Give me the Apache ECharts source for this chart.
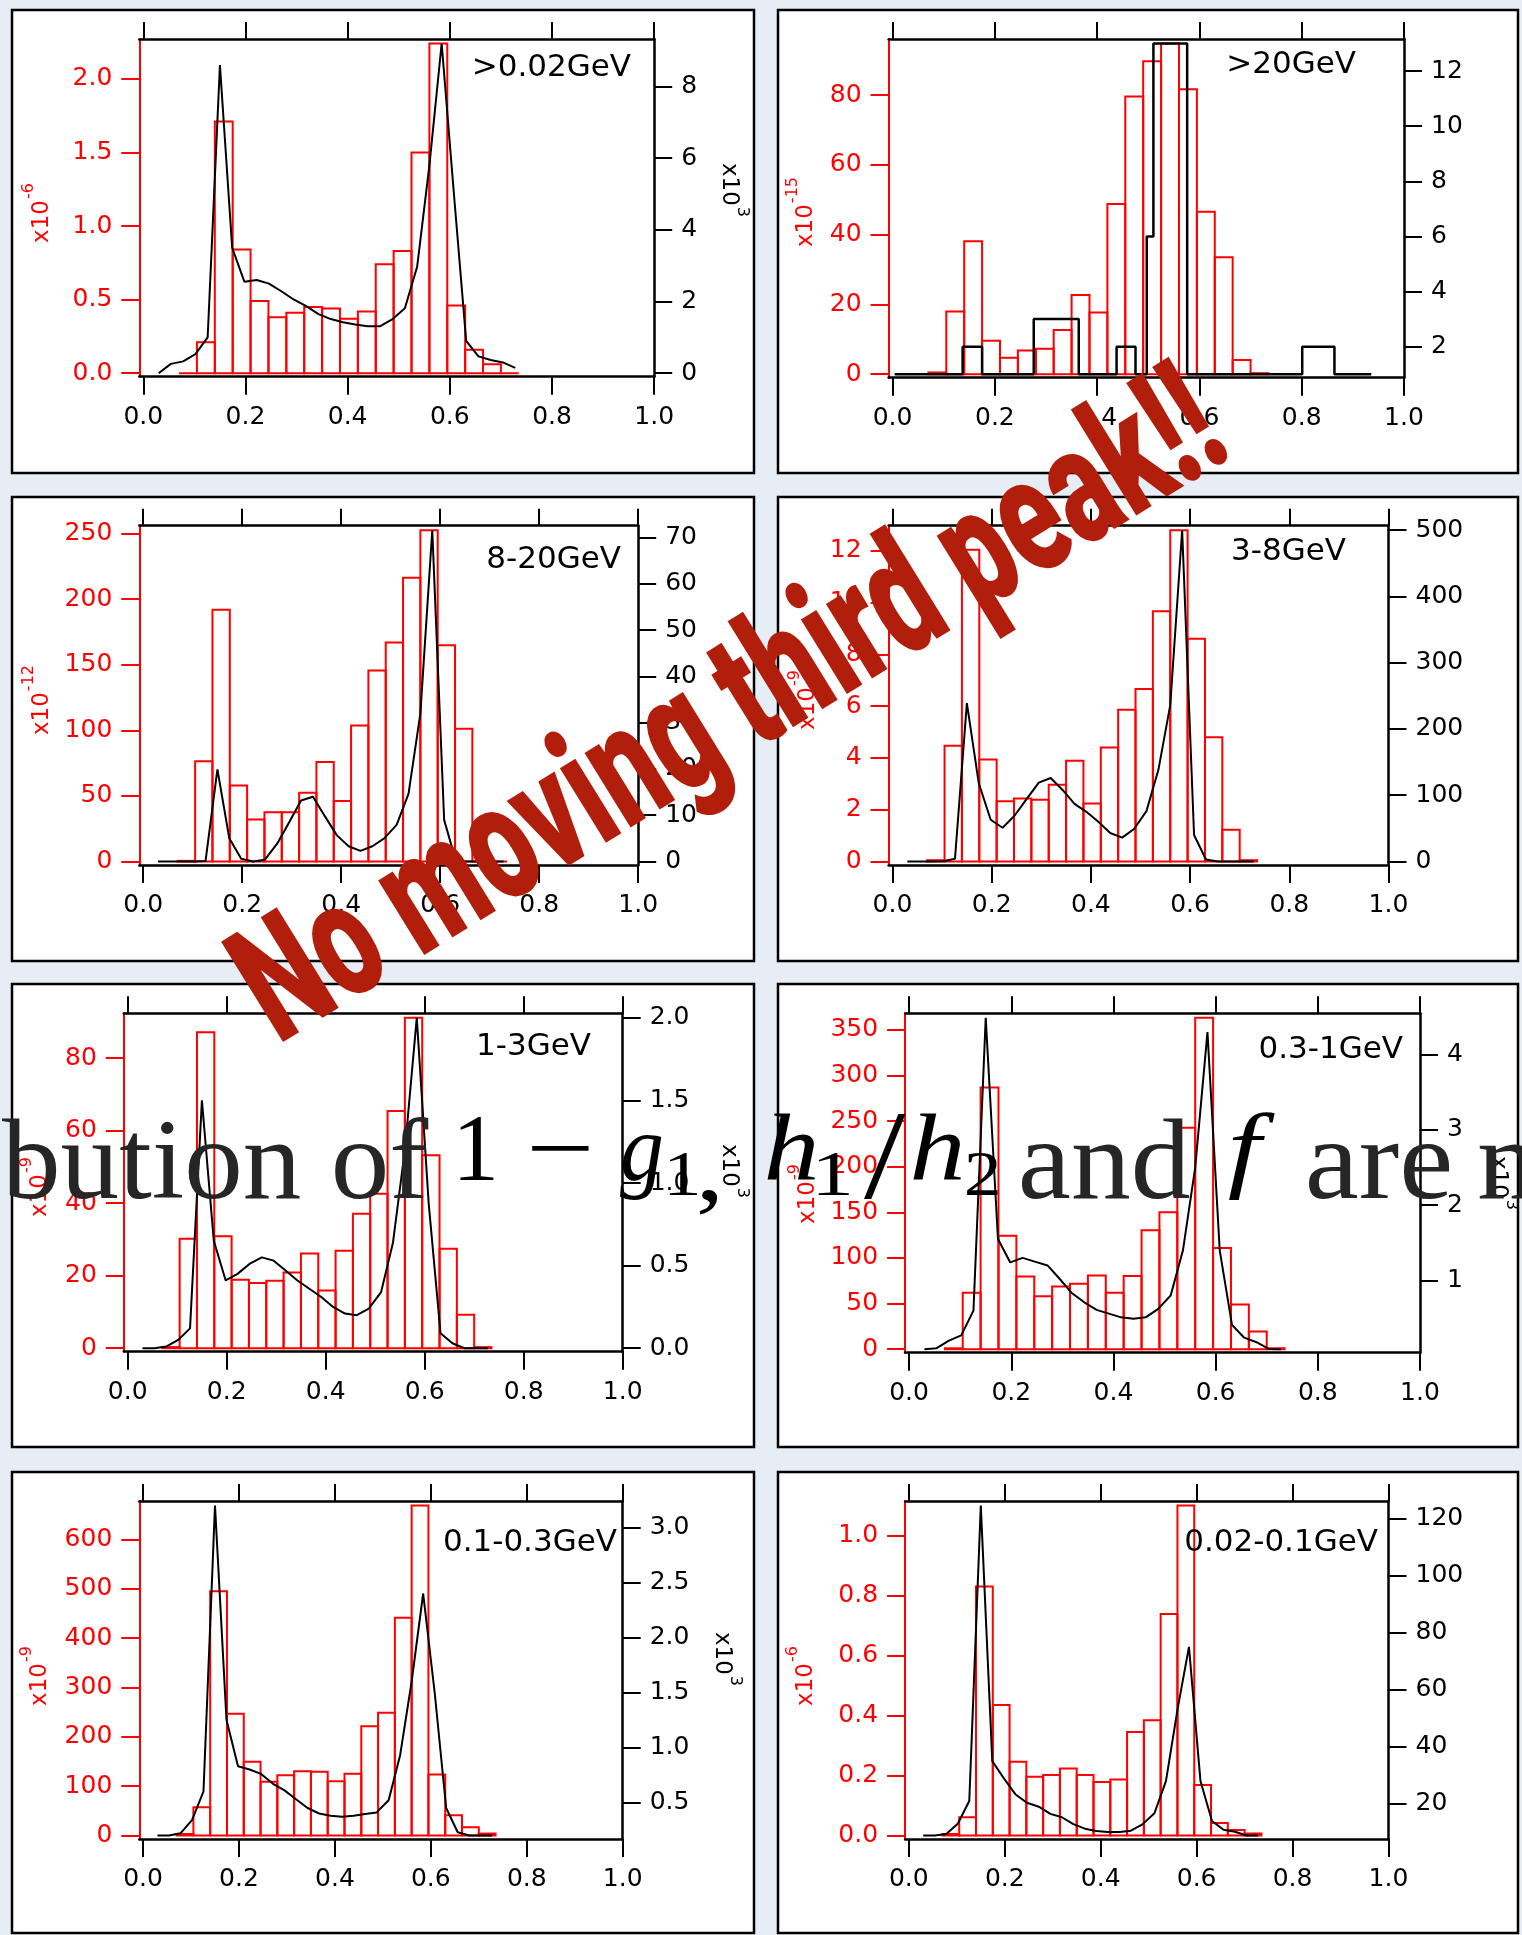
<!DOCTYPE html>
<html>
<head>
<meta charset="utf-8">
<title>Histograms by energy band</title>
<script src="https://cdn.jsdelivr.net/npm/echarts@6/dist/echarts.min.js"></script>
<style>
  html, body { margin: 0; padding: 0; background: #e6edf4; }
  #chart { width: 1522px; height: 1935px; }
</style>
</head>
<body>
<div id="chart"></div>
<script>
// ---------- shared scales ----------
const X_TICKS = ['0.0', '0.2', '0.4', '0.6', '0.8', '1.0'];
const BIN_EDGES = [0.07, 0.105, 0.14, 0.175, 0.21, 0.245, 0.28, 0.315, 0.35, 0.385,
                   0.42, 0.455, 0.49, 0.525, 0.56, 0.595, 0.63, 0.665, 0.70, 0.735];
const LINE_X = [0.030, 0.054, 0.078, 0.102, 0.126, 0.150, 0.174, 0.198, 0.222, 0.246,
                0.271, 0.295, 0.319, 0.343, 0.367, 0.391, 0.415, 0.439, 0.463, 0.487,
                0.512, 0.536, 0.560, 0.584, 0.608, 0.632, 0.656, 0.680, 0.704, 0.728];

// ---------- >0.02GeV ----------
const BARS_GT002 = [0, 0.21, 1.71, 0.84, 0.49, 0.38, 0.41, 0.45, 0.44, 0.37, 0.42, 0.74, 0.83, 1.50, 2.24, 0.46, 0.16, 0.06, 0];
const LINE_GT002 = [0, 0.26, 0.33, 0.53, 1.0, 8.6, 3.5, 2.55, 2.6, 2.5, 2.28, 2.05, 1.87, 1.65, 1.51,
                    1.42, 1.36, 1.31, 1.31, 1.5, 1.81, 2.97, 5.8, 9.2, 5.0, 0.9, 0.47, 0.37, 0.3, 0.15];
const LEFT_TICKS_GT002 = ['0.0', '0.5', '1.0', '1.5', '2.0'];
const RIGHT_TICKS_GT002 = ['0', '2', '4', '6', '8'];

// ---------- >20GeV ----------
const BARS_GT20 = [0.5, 18.0, 38.1, 9.6, 4.7, 6.8, 7.3, 12.7, 22.7, 17.7, 48.8, 79.6, 89.7, 94.8, 81.7, 46.6, 33.5, 4.1, 0.3];
const STEP_EDGES_GT20 = [0.004, 0.137, 0.175, 0.276, 0.364, 0.438, 0.475, 0.497, 0.510, 0.576, 0.801, 0.864, 0.936];
const STEP_VALUES_GT20 = [1, 2, 1, 3, 1, 2, 1, 6, 13, 1, 2, 1];
const LEFT_TICKS_GT20 = ['0', '20', '40', '60', '80'];
const RIGHT_TICKS_GT20 = ['2', '4', '6', '8', '10', '12'];

// ---------- 8-20GeV ----------
const BARS_8_20 = [0.5, 76.5, 192, 58, 32, 37.5, 37.5, 52.5, 75.8, 46.2, 103.6, 145.7, 167, 216.3, 252.6, 164.8, 101.3, 0, 0];
const LINE_8_20 = [0, 0, 0, 0, 0.1, 19.9, 5, 0.6, 0, 0.4, 3.9, 8.5, 13.2, 14, 9.8,
                   5.7, 3.3, 2.3, 3.3, 5, 7.9, 14.6, 32, 71.6, 9, 0, 0, 0, 0, 0];
const LEFT_TICKS_8_20 = ['0', '50', '100', '150', '200', '250'];
const RIGHT_TICKS_8_20 = ['0', '10', '20', '30', '40', '50', '60', '70'];

// ---------- 3-8GeV ----------
const BARS_3_8 = [0.05, 4.47, 12.04, 3.94, 2.33, 2.43, 2.39, 2.97, 3.89, 2.24, 4.40, 5.86, 6.66, 9.67, 12.80, 8.61, 4.80, 1.23, 0.05];
const LINE_3_8 = [0, 0, 0, 0.5, 4, 239, 118, 63, 51, 69, 95, 119, 126, 108, 87,
                  75, 60, 43, 36, 49, 76, 138, 236, 500, 40, 3, 0, 0, 0, 0];
const LEFT_TICKS_3_8 = ['0', '2', '4', '6', '8', '10', '12'];
const RIGHT_TICKS_3_8 = ['0', '100', '200', '300', '400', '500'];

// ---------- 1-3GeV ----------
const BARS_1_3 = [0.3, 30.2, 87.1, 30.9, 18.9, 18.0, 18.6, 20.9, 26.1, 15.9, 26.9, 37.1, 42.6, 65.4, 91.1, 53.2, 27.4, 9.2, 0.3];
const LINE_1_3 = [0, 0, 0.01, 0.05, 0.12, 1.50, 0.65, 0.41, 0.45, 0.51, 0.55, 0.53, 0.47, 0.41, 0.36,
                  0.31, 0.25, 0.21, 0.20, 0.24, 0.34, 0.64, 1.2, 2.0, 0.88, 0.09, 0.03, 0, 0, 0];
const LEFT_TICKS_1_3 = ['0', '20', '40', '60', '80'];
const RIGHT_TICKS_1_3 = ['0.0', '0.5', '1.0', '1.5', '2.0'];

// ---------- 0.3-1GeV ----------
const BARS_03_1 = [1, 61.8, 286.8, 124.3, 79.8, 58.1, 68.8, 71.7, 80.9, 61.8, 80.1, 130.5, 150, 242.6, 363.2, 111, 48.9, 19.5, 1];
const LINE_03_1 = [0.087, 0.10, 0.20, 0.27, 0.6, 4.49, 1.55, 1.24, 1.30, 1.25, 1.20, 1.02, 0.83, 0.71, 0.61,
                   0.56, 0.51, 0.49, 0.51, 0.62, 0.80, 1.4, 2.5, 4.30, 1.4, 0.41, 0.24, 0.18, 0.09, 0.087];
const LEFT_TICKS_03_1 = ['0', '50', '100', '150', '200', '250', '300', '350'];
const RIGHT_TICKS_03_1 = ['1', '2', '3', '4'];

// ---------- 0.1-0.3GeV ----------
const BARS_01_03 = [3, 57.4, 495, 246.6, 149.3, 108.8, 122.3, 130.4, 129, 110, 125, 221.6, 248.6, 441.2, 669, 123.6, 41.2, 16.9, 4];
const LINE_01_03 = [0.2, 0.2, 0.22, 0.34, 0.6, 3.2, 1.25, 0.83, 0.80, 0.76, 0.67, 0.61, 0.53, 0.45, 0.40,
                    0.38, 0.37, 0.38, 0.395, 0.41, 0.52, 0.93, 1.6, 2.40, 1.5, 0.45, 0.23, 0.2, 0.2, 0.2];
const LEFT_TICKS_01_03 = ['0', '100', '200', '300', '400', '500', '600'];
const RIGHT_TICKS_01_03 = ['0.5', '1.0', '1.5', '2.0', '2.5', '3.0'];

// ---------- 0.02-0.1GeV ----------
const BARS_002_01 = [0.005, 0.061, 0.830, 0.435, 0.246, 0.196, 0.202, 0.223, 0.202, 0.178, 0.187, 0.345, 0.384, 0.738, 1.10, 0.168, 0.042, 0.018, 0.007];
const LINE_002_01 = [8.9, 8.9, 9.4, 13, 21, 124.7, 35, 29, 23.4, 20.4, 19, 16.5, 15.3, 12.9, 11.3,
                     10.5, 10.1, 10.1, 10.6, 12.8, 16.7, 28, 53, 75.1, 28, 14, 10.9, 10.2, 8.9, 8.9];
const LEFT_TICKS_002_01 = ['0.0', '0.2', '0.4', '0.6', '0.8', '1.0'];
const RIGHT_TICKS_002_01 = ['20', '40', '60', '80', '100', '120'];

// ---------- panel layout ----------
const PANELS = [
  { title: '>0.02GeV', bars: BARS_GT002, line: LINE_GT002, left: LEFT_TICKS_GT002, right: RIGHT_TICKS_GT002,
    leftExp: '-6', rightExp: '3', box: [12, 10, 754, 473], grid: [139.3, 39, 654.2, 376.7],
    titleAt: [631, 68], leftExpAt: [41, 213], rightExpAt: [730, 190] },
  { title: '>20GeV', bars: BARS_GT20, step: { edges: STEP_EDGES_GT20, values: STEP_VALUES_GT20 },
    left: LEFT_TICKS_GT20, right: RIGHT_TICKS_GT20,
    leftExp: '-15', rightExp: null, box: [778, 10, 1518, 473], grid: [888.6, 39, 1404, 377.7],
    titleAt: [1356, 65], leftExpAt: [805, 212] },
  { title: '8-20GeV', bars: BARS_8_20, line: LINE_8_20, left: LEFT_TICKS_8_20, right: RIGHT_TICKS_8_20,
    leftExp: '-12', rightExp: null, box: [12, 497, 754, 961], grid: [139.3, 525.7, 638.2, 865],
    titleAt: [621, 560], leftExpAt: [41, 700] },
  { title: '3-8GeV', bars: BARS_3_8, line: LINE_3_8, left: LEFT_TICKS_3_8, right: RIGHT_TICKS_3_8,
    leftExp: '-9', rightExp: null, box: [778, 497, 1518, 961], grid: [888.6, 525.7, 1388.5, 865],
    titleAt: [1346, 552], leftExpAt: [807, 700] },
  { title: '1-3GeV', bars: BARS_1_3, line: LINE_1_3, left: LEFT_TICKS_1_3, right: RIGHT_TICKS_1_3,
    leftExp: '-9', rightExp: '3', box: [12, 984, 754, 1447], grid: [123.8, 1013.3, 622.7, 1351.7],
    titleAt: [591, 1047], leftExpAt: [39, 1187], rightExpAt: [730, 1171] },
  { title: '0.3-1GeV', bars: BARS_03_1, line: LINE_03_1, left: LEFT_TICKS_03_1, right: RIGHT_TICKS_03_1,
    leftExp: '-9', rightExp: '3', box: [778, 984, 1518, 1447], grid: [905.1, 1013.3, 1420, 1352.7],
    titleAt: [1403, 1050], leftExpAt: [807, 1194], rightExpAt: [1499, 1183] },
  { title: '0.1-0.3GeV', bars: BARS_01_03, line: LINE_01_03, left: LEFT_TICKS_01_03, right: RIGHT_TICKS_01_03,
    leftExp: '-9', rightExp: '3', box: [12, 1472, 754, 1933], grid: [139.3, 1501, 622.7, 1839],
    titleAt: [617, 1543], leftExpAt: [39, 1676], rightExpAt: [723, 1659] },
  { title: '0.02-0.1GeV', bars: BARS_002_01, line: LINE_002_01, left: LEFT_TICKS_002_01, right: RIGHT_TICKS_002_01,
    leftExp: '-6', rightExp: null, box: [778, 1472, 1518, 1933], grid: [905.1, 1501, 1388.5, 1839],
    titleAt: [1378, 1543], leftExpAt: [805, 1676] }
];

const SANS = '"DejaVu Sans", "Liberation Sans", sans-serif';
const SERIF = '"Liberation Serif", "DejaVu Serif", serif';
const RED = '#ff0000';
const X_MIN = -0.0078;
const PAD_TOP = 4.5, PAD_BOTTOM = 3.5;

function paddedRange(lo, hi, h) {
  const per = (hi - lo) / (h - PAD_TOP - PAD_BOTTOM);
  return { min: lo - PAD_BOTTOM * per, max: hi + PAD_TOP * per };
}
function tickSpec(labels) {
  const vals = labels.map(Number);
  return {
    vals,
    fmt: v => {
      for (let i = 0; i < vals.length; i++) if (Math.abs(vals[i] - v) < 1e-9) return labels[i];
      return '';
    }
  };
}

const grids = [], xAxes = [], yAxes = [], series = [], elements = [];
const xs = tickSpec(X_TICKS);

PANELS.forEach((p, i) => {
  const [gl, gt, gr, gb] = p.grid;
  const h = gb - gt;
  grids.push({ left: gl, top: gt, width: gr - gl, height: h, containLabel: false });

  // bottom and top x axes
  xAxes.push({
    type: 'value', gridIndex: i, position: 'bottom', min: X_MIN, max: 1,
    axisLine: { show: true, onZero: false, lineStyle: { color: '#000', width: 2.5 } },
    axisTick: { show: true, customValues: xs.vals, length: 18, lineStyle: { color: '#000', width: 2 } },
    axisLabel: { show: true, customValues: xs.vals, formatter: xs.fmt, color: '#000', fontSize: 25, fontFamily: SANS, margin: 28 },
    splitLine: { show: false }
  });
  xAxes.push({
    type: 'value', gridIndex: i, position: 'top', min: X_MIN, max: 1,
    axisLine: { show: true, onZero: false, lineStyle: { color: '#000', width: 2.5 } },
    axisTick: { show: true, customValues: xs.vals, length: 17, lineStyle: { color: '#000', width: 2 } },
    axisLabel: { show: false },
    splitLine: { show: false }
  });

  // left (red, histogram) and right (black, curve) y axes
  const ls = tickSpec(p.left), rs = tickSpec(p.right);
  const lRange = paddedRange(0, Math.max(...p.bars), h);
  const rVals = p.step ? p.step.values : p.line;
  const rRange = paddedRange(Math.min(...rVals), Math.max(...rVals), h);
  yAxes.push({
    type: 'value', gridIndex: i, position: 'left', min: lRange.min, max: lRange.max,
    axisLine: { show: true, onZero: false, lineStyle: { color: RED, width: 2 } },
    axisTick: { show: true, customValues: ls.vals, length: 18, lineStyle: { color: RED, width: 2 } },
    axisLabel: { show: true, customValues: ls.vals, formatter: ls.fmt, color: RED, fontSize: 25, fontFamily: SANS, margin: 27 },
    splitLine: { show: false }
  });
  yAxes.push({
    type: 'value', gridIndex: i, position: 'right', min: rRange.min, max: rRange.max,
    axisLine: { show: true, onZero: false, lineStyle: { color: '#000', width: 2.5 } },
    axisTick: { show: true, customValues: rs.vals, length: 18, lineStyle: { color: '#000', width: 2 } },
    axisLabel: { show: true, customValues: rs.vals, formatter: rs.fmt, color: '#000', fontSize: 25, fontFamily: SANS, margin: 27 },
    splitLine: { show: false }
  });

  // red outlined histogram
  series.push({
    type: 'custom', xAxisIndex: 2 * i, yAxisIndex: 2 * i, z: 3, silent: true, clip: false,
    data: p.bars.map((v, j) => [BIN_EDGES[j], BIN_EDGES[j + 1], v]),
    encode: { x: [0, 1], y: 2 },
    renderItem(params, api) {
      const a = api.coord([api.value(0), 0]);
      const b = api.coord([api.value(1), api.value(2)]);
      return {
        type: 'rect',
        shape: { x: a[0], y: b[1], width: b[0] - a[0], height: a[1] - b[1] },
        style: { fill: 'none', stroke: RED, lineWidth: 2 }
      };
    }
  });

  // black curve (or step outline)
  let pts;
  if (p.step) {
    pts = [];
    p.step.values.forEach((v, k) => { pts.push([p.step.edges[k], v]); pts.push([p.step.edges[k + 1], v]); });
  } else {
    pts = LINE_X.map((x, k) => [x, p.line[k]]);
  }
  series.push({
    type: 'line', xAxisIndex: 2 * i, yAxisIndex: 2 * i + 1, z: 4, silent: true,
    data: pts, showSymbol: false, symbol: 'none', clip: false,
    lineStyle: { color: '#000', width: p.step ? 2.5 : 2 }
  });

  // panel frame
  const [bl, bt, br, bb] = p.box;
  elements.push({
    type: 'rect', z: -10, silent: true,
    shape: { x: bl, y: bt, width: br - bl, height: bb - bt },
    style: { fill: '#ffffff', stroke: '#000', lineWidth: 2.5 }
  });

  // band label
  elements.push({
    type: 'text', z: 5, x: p.titleAt[0], y: p.titleAt[1],
    style: { text: p.title, font: '31px ' + SANS, fill: '#000',
             align: 'right', verticalAlign: 'middle', textAlign: 'right', textVerticalAlign: 'middle' }
  });

  // axis multipliers
  const expLabel = (pos, sup, color, rot) => ({
    type: 'text', z: 5, x: pos[0], y: pos[1], rotation: rot,
    style: {
      text: '{a|x10}{s|' + sup + '}',
      align: 'center', verticalAlign: 'middle', textAlign: 'center', textVerticalAlign: 'middle',
      rich: {
        a: { fontSize: 23, fontFamily: SANS, fill: color, verticalAlign: 'bottom', lineHeight: 26 },
        s: { fontSize: 16, fontFamily: SANS, fill: color, verticalAlign: 'bottom', lineHeight: 16, padding: [0, 0, 17, 1] }
      }
    }
  });
  elements.push(expLabel(p.leftExpAt, p.leftExp, RED, Math.PI / 2));
  if (p.rightExp) elements.push(expLabel(p.rightExpAt, p.rightExp, '#000', -Math.PI / 2));
});

// ---------- overlay text ----------
const mctx = document.createElement('canvas').getContext('2d');
function inkMetrics(font, text) {
  mctx.font = font;
  mctx.textBaseline = 'alphabetic';
  const m = mctx.measureText(text);
  const aAlpha = mctx.measureText('H').actualBoundingBoxAscent;
  mctx.textBaseline = 'middle';
  const aMid = mctx.measureText('H').actualBoundingBoxAscent;
  mctx.textBaseline = 'alphabetic';
  return { left: m.actualBoundingBoxLeft, width: m.actualBoundingBoxLeft + m.actualBoundingBoxRight, off: aAlpha - aMid };
}
// text placed by its ink box: left/right edge and baseline
function inkText(text, font, left, right, baseline, fill, z) {
  const m = inkMetrics(font, text);
  const sx = right == null ? 1.05 : (right - left) / m.width;
  return {
    type: 'text', z, silent: true, x: left + m.left * sx, y: baseline - m.off, scaleX: sx,
    style: { text, font, fill, align: 'left', verticalAlign: 'middle', textAlign: 'left', textVerticalAlign: 'middle' }
  };
}

// line of body text running across the middle row
const BODY = [
  ['bution of', 2, 429, 1198, 115, false, '#262626'],
  ['1', 460, 494, 1180, 96, false, '#000'],
  ['\u2212', 531, 589, 1180, 96, false, '#000'],
  ['g', 620, 662, 1180, 96, true, '#000'],
  ['1', 669, 698, 1195, 64, false, '#000'],
  [',', 699, 717, 1200, 96, false, '#000'],
  ['h', 767, 816, 1180, 96, true, '#000'],
  ['1', 818, 850, 1195, 64, false, '#000'],
  ['/', 864, 906, 1198, 128, false, '#000'],
  ['h', 913, 962, 1180, 96, true, '#000'],
  ['2', 966, 998, 1195, 64, false, '#000'],
  ['and', 1022, 1190, 1198, 115, false, '#262626'],
  ['f', 1229, 1275, 1180, 96, true, '#000'],
  ['are', 1309, 1450, 1198, 115, false, '#262626'],
  ['n', 1479, null, 1198, 115, false, '#262626']
];
BODY.forEach(([t, l, r, b, size, it, col]) => {
  elements.push(inkText(t, (it ? 'italic ' : '') + size + 'px ' + SERIF, l, r, b, col, 100));
});

// rotated stamp
(function () {
  const text = 'No moving third peak!!';
  const font = '900 166px "Roboto", "Liberation Sans", "DejaVu Sans", sans-serif';
  const start = [283, 1042], end = [1231, 457];
  const dx = end[0] - start[0], dy = start[1] - end[1];
  const len = Math.hypot(dx, dy);
  const theta = Math.atan2(dy, dx);
  const m = inkMetrics(font, text);
  const sx = len / m.width;
  // local point (ink left, baseline) after scale and rotation
  const lx = -m.left * sx, ly = m.off;
  const c = Math.cos(theta), s = Math.sin(theta);
  const rx = lx * c + ly * s, ry = -lx * s + ly * c;
  elements.push({
    type: 'text', z: 110, silent: true,
    x: start[0] - rx, y: start[1] - ry, rotation: theta, scaleX: sx,
    style: { text, font, fill: '#b21e0c', align: 'left', verticalAlign: 'middle', textAlign: 'left', textVerticalAlign: 'middle' }
  });
})();

const chart = echarts.init(document.getElementById('chart'), null, { renderer: 'canvas', width: 1522, height: 1935 });
chart.setOption({
  backgroundColor: '#e6edf4',
  animation: false,
  grid: grids,
  xAxis: xAxes,
  yAxis: yAxes,
  series,
  graphic: { elements }
});
</script>
</body>
</html>
